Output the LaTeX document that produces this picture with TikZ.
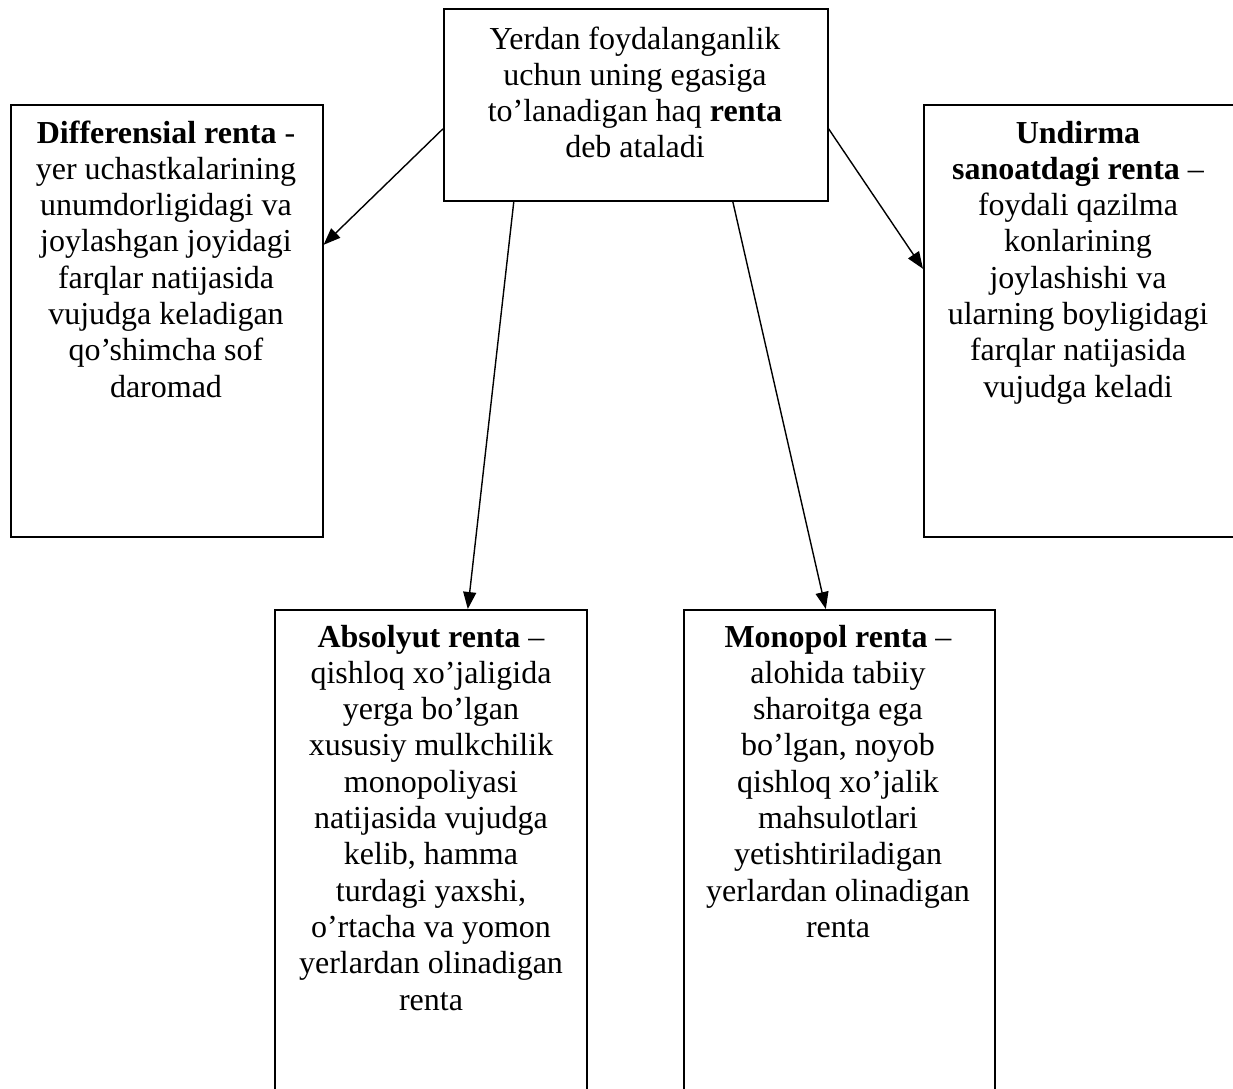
\documentclass[tikz,border=0pt]{standalone}
\usepackage{fontspec}
\setmainfont{Liberation Serif}
\usetikzlibrary{arrows.meta,calc}
\tikzset{
  box/.style={draw, line width=1.6pt, rectangle, inner sep=0pt, anchor=north west},
  txt/.style={anchor=base, inner sep=0pt},
  conn/.style={line width=1.4pt, -{Triangle[length=17pt,width=13pt]}}
}
\newcommand{\boxtext}[2]{\parbox[t]{#1}{\centering\fontsize{32}{36.3}\selectfont #2}}
\begin{document}
\begin{tikzpicture}[x=1pt,y=-1pt]
\useasboundingbox (0,0) rectangle (1233,1088);
\clip (0,0) rectangle (1233,1088);
% boxes
\node[box, minimum width=384pt, minimum height=192pt] (T) at (443,8) {};
\node[box, minimum width=312pt, minimum height=432pt] (L) at (10,104) {};
\node[box, minimum width=313pt, minimum height=432pt] (R) at (923,104) {};
\node[box, minimum width=312pt, minimum height=520pt] (A) at (274,609) {};
\node[box, minimum width=311pt, minimum height=520pt] (M) at (683,609) {};
% texts
\node[txt] (tT) at (635,49) {\boxtext{370pt}{Yerdan foydalanganlik\\uchun uning egasiga\\to’lanadigan haq \textbf{renta}\\deb ataladi}};
\node[txt] (tL) at (166,143) {\boxtext{305pt}{\textbf{Differensial renta} -\\yer uchastkalarining\\unumdorligidagi va\\joylashgan joyidagi\\farqlar natijasida\\vujudga keladigan\\qo’shimcha sof\\daromad}};
\node[txt] (tR) at (1078,143) {\boxtext{305pt}{\textbf{Undirma}\\\textbf{sanoatdagi renta} –\\foydali qazilma\\konlarining\\joylashishi va\\ularning boyligidagi\\farqlar natijasida\\vujudga keladi}};
\node[txt] (tA) at (431,647) {\boxtext{305pt}{\textbf{Absolyut renta} –\\qishloq xo’jaligida\\yerga bo’lgan\\xususiy mulkchilik\\monopoliyasi\\natijasida vujudga\\kelib, hamma\\turdagi yaxshi,\\o’rtacha va yomon\\yerlardan olinadigan\\renta}};
\node[txt] (tM) at (838,647) {\boxtext{305pt}{\textbf{Monopol renta} –\\alohida tabiiy\\sharoitga ega\\bo’lgan, noyob\\qishloq xo’jalik\\mahsulotlari\\yetishtiriladigan\\yerlardan olinadigan\\renta}};
% connectors
\draw[conn] ([shift={(0,24)}]T.west) -- ([shift={(0,-76)}]L.east);
\draw[conn] ([shift={(0,24)}]T.east) -- ([shift={(0,-52)}]R.west);
\draw[conn] ([shift={(-122,0)}]T.south) -- ([shift={(37,0)}]A.north);
\draw[conn] ([shift={(97,0)}]T.south) -- ([shift={(-13.5,0)}]M.north);
\end{tikzpicture}
\end{document}
